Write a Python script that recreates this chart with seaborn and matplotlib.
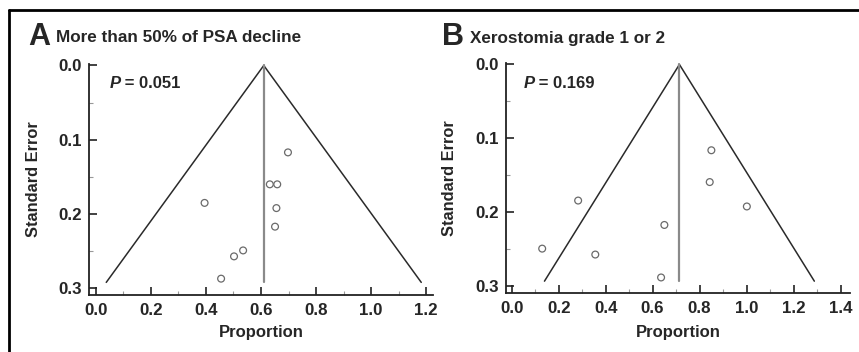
import matplotlib
matplotlib.use("Agg")
import matplotlib.pyplot as plt
import seaborn as sns
import pandas as pd
from matplotlib.lines import Line2D
from matplotlib.ticker import MultipleLocator

# ---- data ----
a_prop = [0.698, 0.632, 0.659, 0.395, 0.656, 0.651, 0.535, 0.502, 0.455]
a_se = [0.117, 0.160, 0.160, 0.185, 0.192, 0.217, 0.249, 0.257, 0.287]
a_pooled = 0.61
a_se_max = 0.292
a_title = "More than 50% of PSA decline"
a_p = "0.051"

b_prop = [0.850, 0.843, 0.283, 1.001, 0.650, 0.130, 0.356, 0.636]
b_se = [0.116, 0.159, 0.184, 0.192, 0.217, 0.249, 0.257, 0.288]
b_pooled = 0.714
b_se_max = 0.293
b_title = "Xerostomia grade 1 or 2"
b_p = "0.169"

a_xticks = [0.0, 0.2, 0.4, 0.6, 0.8, 1.0, 1.2]
b_xticks = [0.0, 0.2, 0.4, 0.6, 0.8, 1.0, 1.2, 1.4]
yticks = [0.0, 0.1, 0.2, 0.3]

sns.set_style("ticks")
plt.rcParams["font.family"] = ["Liberation Sans", "DejaVu Sans"]
plt.rcParams["font.weight"] = "bold"

W, H = 859, 352
fig = plt.figure(figsize=(W / 100, H / 100), dpi=100)

def px_axes(left, right, top, bottom):
    return fig.add_axes([left / W, 1 - bottom / H, (right - left) / W, (bottom - top) / H])

panels = [
    dict(ax=px_axes(89, 433, 64, 295), prop=a_prop, se=a_se, pooled=a_pooled, se_max=a_se_max,
         xticks=a_xticks, xlim=(-0.025, 1.225), letter="A", title=a_title, p=a_p,
         letter_x=28, title_x=56, ylabel_x=33, p_x=110),
    dict(ax=px_axes(506, 850, 63, 293), prop=b_prop, se=b_se, pooled=b_pooled, se_max=b_se_max,
         xticks=b_xticks, xlim=(-0.024, 1.44), letter="B", title=b_title, p=b_p,
         letter_x=442, title_x=470, ylabel_x=450, p_x=524),
]

for pn in panels:
    ax = pn["ax"]
    df = pd.DataFrame({"Proportion": pn["prop"], "SE": pn["se"]})
    pooled, sm = pn["pooled"], pn["se_max"]
    ax.plot([pooled - 1.96 * sm, pooled, pooled + 1.96 * sm], [sm, 0, sm],
            color="#2a2a2a", lw=1.1, zorder=2)
    ax.plot([pooled, pooled], [0, sm], color="#8a8a8a", lw=1.6, zorder=2)
    sns.scatterplot(data=df, x="Proportion", y="SE", ax=ax, marker="o", s=24,
                    facecolor="none", edgecolor="#6a6a6a", linewidth=0.9, zorder=3)
    ax.set_xlim(*pn["xlim"])
    ax.set_ylim(0.309, -0.002)
    ax.set_xticks(pn["xticks"])
    ax.set_xticklabels([f"{v:.1f}" for v in pn["xticks"]])
    ax.set_yticks(yticks)
    ax.set_yticklabels([f"{v:.1f}" for v in yticks])
    ax.xaxis.set_minor_locator(MultipleLocator(0.1))
    ax.yaxis.set_minor_locator(MultipleLocator(0.05))
    ax.tick_params(which="major", direction="in", length=6, width=1.2, labelsize=12.2,
                   color="#222222")
    ax.tick_params(axis="x", which="major", pad=6)
    ax.tick_params(axis="y", which="major", pad=5)
    ax.tick_params(which="minor", direction="in", length=3, width=0.8, color="#999999")
    for t in ax.get_xticklabels() + ax.get_yticklabels():
        t.set_fontweight("bold")
    sns.despine(ax=ax)
    for s in ("left", "bottom"):
        ax.spines[s].set_linewidth(1.3)
        ax.spines[s].set_color("#222222")
    ax.set_xlabel("")
    ax.set_ylabel("")
    pos = ax.get_position()
    xc = (pos.x0 + pos.x1) / 2
    yc = (pos.y0 + pos.y1) / 2
    fig.text(xc, 1 - 333 / H, "Proportion", ha="center", va="center", fontsize=12, fontweight="bold")
    fig.text(pn["ylabel_x"] / W, yc, "Standard Error", rotation=90, ha="center", va="center",
             fontsize=11.8, fontweight="bold")
    fig.text(pn["letter_x"] / W, 1 - 37 / H, pn["letter"], ha="left", va="center",
             fontsize=22, fontweight="bold")
    fig.text(pn["title_x"] / W, 1 - 38 / H, pn["title"], ha="left", va="center",
             fontsize=12.3, fontweight="bold")
    fig.text(pn["p_x"] / W, 1 - 83 / H, "P", ha="left", va="center",
             fontsize=12, fontweight="bold", fontstyle="italic")
    fig.text((pn["p_x"] + 10) / W, 1 - 83 / H, " = " + pn["p"], ha="left", va="center",
             fontsize=12, fontweight="bold")

# border lines (top and left)
fig.add_artist(Line2D([9 / W, 1], [1 - 10 / H, 1 - 10 / H], color="black", lw=2, transform=fig.transFigure))
fig.add_artist(Line2D([9 / W, 9 / W], [0, 1 - 10 / H], color="black", lw=2, transform=fig.transFigure))

fig.savefig("out.png", dpi=100, facecolor="white")
